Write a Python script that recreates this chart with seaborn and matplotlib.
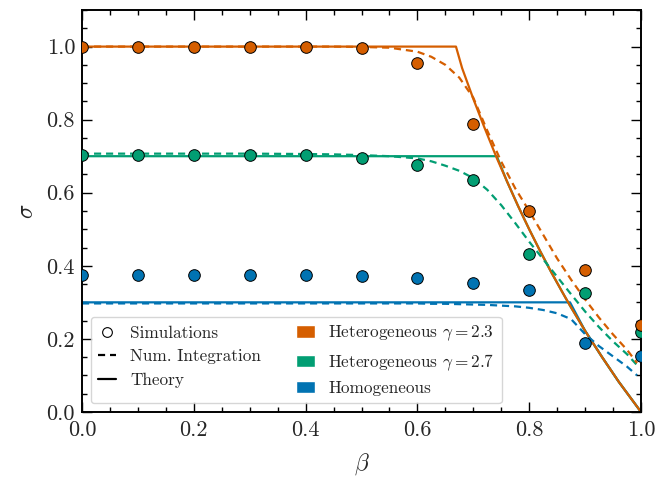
import numpy as np
import pandas as pd
import matplotlib
matplotlib.use("Agg")
import matplotlib.pyplot as plt
import seaborn as sns
from matplotlib.lines import Line2D
from matplotlib.patches import Patch

# ---------------- data ----------------
beta_sim = [0.0, 0.1, 0.2, 0.3, 0.4, 0.5, 0.6, 0.7, 0.8, 0.9, 1.0]
sim_het23 = [1.000, 1.000, 1.000, 1.000, 1.000, 0.997, 0.954, 0.787, 0.549, 0.388, 0.238]
sim_het27 = [0.703, 0.703, 0.703, 0.703, 0.702, 0.695, 0.676, 0.634, 0.433, 0.325, 0.220]
sim_homo = [0.376, 0.376, 0.376, 0.376, 0.375, 0.372, 0.366, 0.352, 0.333, 0.189, 0.153]

beta_num = [0.0, 0.1, 0.2, 0.3, 0.4, 0.45, 0.5, 0.55, 0.6, 0.625, 0.65, 0.675, 0.7,
            0.725, 0.75, 0.775, 0.8, 0.825, 0.85, 0.875, 0.9, 0.925, 0.95, 0.975, 0.993]
num_het23 = [1.000, 1.000, 1.000, 1.000, 1.000, 1.000, 0.999, 0.997, 0.986, 0.972, 0.950,
             0.915, 0.860, 0.770, 0.685, 0.612, 0.550, 0.485, 0.420, 0.362, 0.308, 0.258,
             0.212, 0.170, 0.134]
num_het27 = [0.707, 0.707, 0.707, 0.707, 0.706, 0.705, 0.703, 0.700, 0.694, 0.686, 0.674,
             0.660, 0.640, 0.608, 0.566, 0.517, 0.466, 0.418, 0.370, 0.322, 0.275, 0.232,
             0.193, 0.158, 0.128]
num_homo = [0.297, 0.297, 0.297, 0.297, 0.297, 0.297, 0.297, 0.297, 0.297, 0.296, 0.296,
            0.295, 0.294, 0.293, 0.291, 0.289, 0.285, 0.279, 0.270, 0.254, 0.213, 0.180,
            0.152, 0.124, 0.100]

beta_th_het23 = [0.0, 0.669, 0.68, 0.70, 0.72, 0.742, 0.76, 0.78, 0.80, 0.82, 0.84, 0.86,
                 0.873, 0.90, 0.93, 0.96, 1.0]
th_het23 = [1.000, 1.000, 0.941, 0.857, 0.778, 0.695, 0.632, 0.564, 0.500, 0.439, 0.381,
            0.326, 0.291, 0.222, 0.151, 0.083, 0.000]
beta_th_het27 = [0.0, 0.742, 0.76, 0.78, 0.80, 0.82, 0.84, 0.86, 0.873, 0.90, 0.93, 0.96, 1.0]
th_het27 = [0.700, 0.700, 0.632, 0.564, 0.500, 0.439, 0.381, 0.326, 0.291, 0.222, 0.151,
            0.083, 0.000]
beta_th_homo = [0.0, 0.873, 0.90, 0.93, 0.96, 1.0]
th_homo = [0.300, 0.300, 0.222, 0.151, 0.083, 0.000]

labels = ["Heterogeneous $\\gamma = 2.3$", "Heterogeneous $\\gamma = 2.7$", "Homogeneous"]
colors = ["#D55E00", "#029E73", "#0173B2"]

# ---------------- style ----------------
sns.set_style("ticks")
plt.rcParams.update({
    "font.family": "serif",
    "font.serif": ["cmr10", "DejaVu Serif"],
    "mathtext.fontset": "cm",
    "axes.formatter.use_mathtext": True,
    "axes.unicode_minus": False,
})

fig = plt.figure(figsize=(6.67, 4.79), dpi=100)
ax = fig.add_axes([0.123, 0.140, 0.838, 0.839])

th_sets = [(beta_th_homo, th_homo, colors[2]), (beta_th_het27, th_het27, colors[1]),
           (beta_th_het23, th_het23, colors[0])]
for bx, by, c in th_sets:
    sns.lineplot(x=bx, y=by, color=c, lw=1.6, ax=ax, sort=False, estimator=None, zorder=2)

num_sets = [(num_homo, colors[2]), (num_het27, colors[1]), (num_het23, colors[0])]
for by, c in num_sets:
    sns.lineplot(x=beta_num, y=by, color=c, lw=1.6, ls=(0, (3.2, 2.2)), ax=ax,
                 sort=False, estimator=None, zorder=2)

sim_sets = [(sim_homo, colors[2]), (sim_het27, colors[1]), (sim_het23, colors[0])]
for by, c in sim_sets:
    sns.scatterplot(x=beta_sim, y=by, color=c, s=70, edgecolor="black", linewidth=0.7,
                    ax=ax, zorder=3)

ax.set_xlim(0, 1)
ax.set_ylim(0, 1.1)
ax.set_xticks([0, 0.2, 0.4, 0.6, 0.8, 1.0])
ax.set_yticks([0, 0.2, 0.4, 0.6, 0.8, 1.0])
ax.set_xticklabels(["0.0", "0.2", "0.4", "0.6", "0.8", "1.0"])
ax.set_yticklabels(["0.0", "0.2", "0.4", "0.6", "0.8", "1.0"])
ax.xaxis.set_minor_locator(matplotlib.ticker.MultipleLocator(0.05))
ax.yaxis.set_minor_locator(matplotlib.ticker.MultipleLocator(0.05))
ax.tick_params(which="both", direction="in", top=True, right=True, labelsize=16,
               width=1.0, color="black")
ax.tick_params(which="major", length=7)
ax.tick_params(which="minor", length=3.5)
ax.tick_params(axis="x", which="major", pad=6)
ax.tick_params(axis="y", which="major", pad=5)
for sp in ax.spines.values():
    sp.set_linewidth(1.4)
    sp.set_color("black")
ax.set_xlabel(r"$\beta$", fontsize=17, labelpad=8)
ax.set_ylabel(r"$\sigma$", fontsize=17, labelpad=6)

handles = [
    Line2D([], [], marker="o", ls="none", mfc="white", mec="black", mew=0.8, ms=7),
    Line2D([], [], color="black", lw=1.6, ls=(0, (3.2, 2.2))),
    Line2D([], [], color="black", lw=1.6),
    Patch(facecolor=colors[0]),
    Patch(facecolor=colors[1]),
    Patch(facecolor=colors[2]),
]
hl = ["Simulations", "Num. Integration", "Theory"] + labels
ax.legend(handles, hl, ncol=2, loc="lower left", fontsize=12.4, handlelength=1.1,
          frameon=True, framealpha=0.8, edgecolor="0.8", fancybox=True)

fig.savefig("out.png", dpi=100)
